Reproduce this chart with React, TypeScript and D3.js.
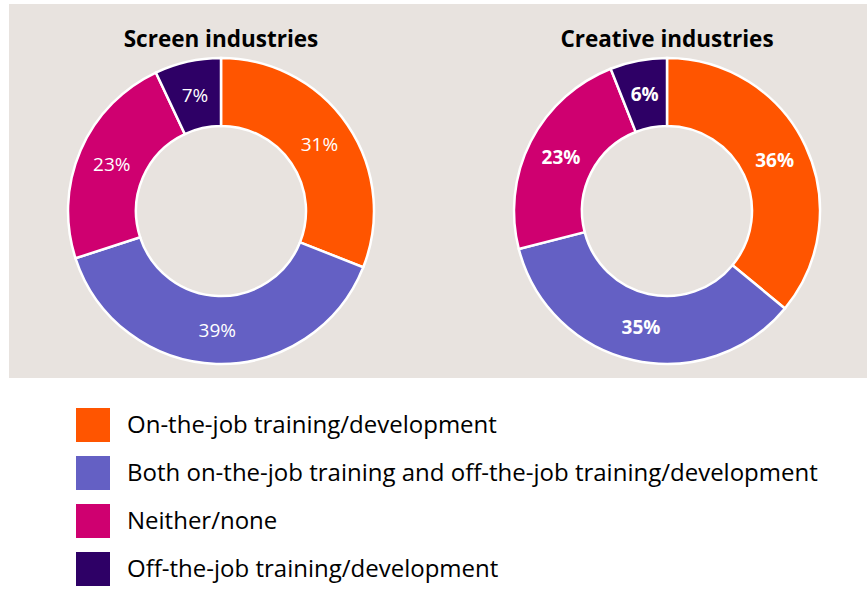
import { useEffect, useRef } from "react";
import * as d3 from "d3";

const categories = [
  "On-the-job training/development",
  "Both on-the-job training and off-the-job training/development",
  "Neither/none",
  "Off-the-job training/development",
];
const colors = ["#FF5500", "#6460C4", "#CF0070", "#2E0066"];
const chartTitles = ["Screen industries", "Creative industries"];
const screenValues = [31, 39, 23, 7];
const creativeValues = [36, 35, 23, 6];
const labelWeights = ["normal", "bold"];

const FONT = "'Open Sans', Lato, sans-serif";

export default function App() {
  const svgRef = useRef<SVGSVGElement | null>(null);

  useEffect(() => {
    const svg = d3.select(svgRef.current);
    svg.selectAll("*").remove();
    const width = 867;
    const height = 609;
    svg.attr("viewBox", `0 0 ${width} ${height}`);

    svg
      .append("rect")
      .attr("x", 9)
      .attr("y", 4)
      .attr("width", width - 9)
      .attr("height", 374)
      .attr("fill", "#E8E3DF");

    const outer = 153;
    const inner = 85;
    const centers = [221, 667];
    const cy = 211;

    const pie = d3
      .pie<number>()
      .sort(null)
      .value((d) => d);
    const arc = d3.arc<d3.PieArcDatum<number>>().innerRadius(inner).outerRadius(outer);
    const labelArc = d3
      .arc<d3.PieArcDatum<number>>()
      .innerRadius((inner + outer) / 2)
      .outerRadius((inner + outer) / 2);

    [screenValues, creativeValues].forEach((values, i) => {
      const g = svg.append("g").attr("transform", `translate(${centers[i]},${cy})`);
      const arcs = pie(values);

      g.selectAll("path")
        .data(arcs)
        .enter()
        .append("path")
        .attr("d", arc)
        .attr("fill", (_, j) => colors[j])
        .attr("stroke", "#fff")
        .attr("stroke-width", 2.5);

      g.selectAll("text.lbl")
        .data(arcs)
        .enter()
        .append("text")
        .attr("class", "lbl")
        .attr("transform", (d) => `translate(${labelArc.centroid(d)})`)
        .attr("text-anchor", "middle")
        .attr("dy", "0.36em")
        .attr("fill", "#fff")
        .attr("font-family", FONT)
        .attr("font-size", 19)
        .attr("font-weight", labelWeights[i])
        .text((d) => `${d.data}%`);

      svg
        .append("text")
        .attr("x", centers[i])
        .attr("y", 47)
        .attr("text-anchor", "middle")
        .attr("font-family", FONT)
        .attr("font-size", 22.5)
        .attr("font-weight", "bold")
        .attr("fill", "#000")
        .text(chartTitles[i]);
    });

    // legend
    const legend = svg
      .selectAll("g.legend")
      .data(categories)
      .enter()
      .append("g")
      .attr("class", "legend")
      .attr("transform", (_, i) => `translate(76,${408 + i * 48})`);

    legend
      .append("rect")
      .attr("width", 34)
      .attr("height", 34)
      .attr("fill", (_, i) => colors[i]);

    legend
      .append("text")
      .attr("x", 51)
      .attr("y", 17)
      .attr("dy", "0.35em")
      .attr("font-family", FONT)
      .attr("font-size", 24)
      .attr("fill", "#000")
      .text((d) => d);
  }, []);

  return (
    <svg
      ref={svgRef}
      width={867}
      height={609}
      style={{ position: "absolute", left: 0, top: 0, background: "#fff" }}
    />
  );
}
